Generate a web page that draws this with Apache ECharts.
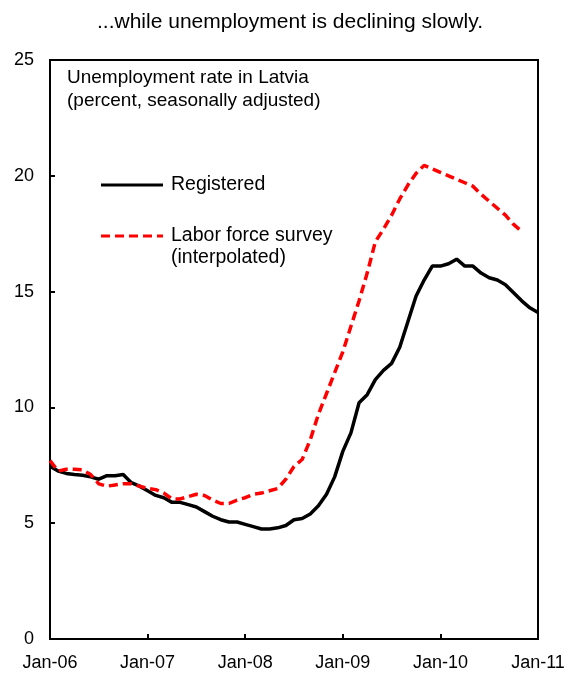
<!DOCTYPE html>
<html><head><meta charset="utf-8">
<script src="https://cdn.jsdelivr.net/npm/echarts@6/dist/echarts.min.js"></script>
<style>html,body{margin:0;padding:0;background:#fff}#c{width:580px;height:677px}</style>
</head><body><div id="c"></div>
<script>
// Months since Jan-06 (index 0 = Jan-06)
const tickLabels = ['Jan-06','Jan-07','Jan-08','Jan-09','Jan-10','Jan-11'];
const registered = [7.46,7.25,7.15,7.1,7.07,7.0,6.9,7.05,7.05,7.1,6.75,6.6,
  6.4,6.2,6.1,5.9,5.9,5.8,5.7,5.5,5.3,5.15,5.05,5.05,
  4.95,4.85,4.75,4.75,4.8,4.9,5.15,5.2,5.4,5.75,6.25,7.0,
  8.1,8.9,10.2,10.55,11.2,11.6,11.9,12.6,13.7,14.8,15.5,16.1,
  16.1,16.2,16.4,16.1,16.1,15.8,15.6,15.5,15.3,14.95,14.6,14.3,14.1];
const laborForce = [7.7,7.25,7.33,7.33,7.3,7.1,6.7,6.6,6.65,6.7,6.7,6.6,
  6.5,6.45,6.3,6.05,6.05,6.15,6.25,6.2,6.0,5.85,5.85,6.0,
  6.1,6.25,6.3,6.4,6.5,6.9,7.45,7.75,8.6,9.7,10.6,11.5,
  12.4,13.5,14.6,15.8,17.15,17.7,18.3,19.0,19.6,20.1,20.45,20.3,
  20.15,20.0,19.85,19.7,19.55,19.2,18.9,18.6,18.3,17.9,17.6];
const yTicks = [0,5,10,15,20,25];

const font = 'Liberation Sans, Arial, sans-serif';
const chart = echarts.init(document.getElementById('c'));
chart.setOption({
  animation:false,
  backgroundColor:'#fff',
  title:{text:'...while unemployment is declining slowly.',left:'center',top:7,
    textStyle:{fontFamily:font,fontSize:21,fontWeight:'normal',color:'#000'}},
  grid:{left:50,right:42,top:60,bottom:38,show:true,borderColor:'#000',borderWidth:2,backgroundColor:'transparent'},
  xAxis:{type:'value',min:0,max:60,interval:12,
    axisLine:{lineStyle:{color:'#000',width:2}},
    axisTick:{inside:true,length:5,lineStyle:{color:'#000',width:2}},
    splitLine:{show:false},
    axisLabel:{fontFamily:font,fontSize:18,color:'#000',margin:15,
      formatter:v=>tickLabels[v/12]}},
  yAxis:{type:'value',min:yTicks[0],max:yTicks[yTicks.length-1],interval:5,
    axisLine:{show:true,lineStyle:{color:'#000',width:2}},
    axisTick:{show:true,inside:true,length:5,lineStyle:{color:'#000',width:2}},
    splitLine:{show:false},
    axisLabel:{fontFamily:font,fontSize:18,color:'#000',margin:16}},
  series:[
    {name:'Registered',type:'line',symbol:'none',data:registered.map((v,i)=>[i,v]),
      lineStyle:{color:'#000',width:3.5}},
    {name:'Labor force survey',type:'line',symbol:'none',data:laborForce.map((v,i)=>[i,v]),
      lineStyle:{color:'#ff0000',width:3.5,type:[9,5]}}
  ],
  graphic:[
    {type:'text',style:{x:67,y:89.5,text:'Unemployment rate in Latvia\n(percent, seasonally adjusted)',
      font:'19px '+font,fill:'#000',lineHeight:23,verticalAlign:'middle'}},
    {type:'line',shape:{x1:101,y1:185,x2:163,y2:185},style:{stroke:'#000',lineWidth:3}},
    {type:'text',style:{x:171,y:185,text:'Registered',font:'19.5px '+font,fill:'#000',verticalAlign:'middle'}},
    {type:'line',shape:{x1:101,y1:236,x2:163,y2:236},style:{stroke:'#ff0000',lineWidth:3,lineDash:[9,5]}},
    {type:'text',style:{x:171,y:247,text:'Labor force survey\n(interpolated)',font:'19.5px '+font,fill:'#000',lineHeight:22,verticalAlign:'middle'}}
  ]
});
</script></body></html>
